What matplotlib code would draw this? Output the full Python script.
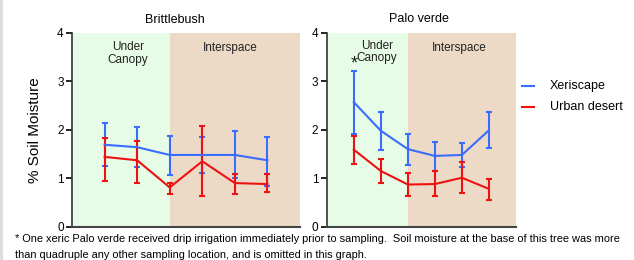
import numpy as np
import matplotlib.pyplot as plt

plt.rcParams['font.family'] = ['Liberation Sans', 'DejaVu Sans']

# sampling locations 1..6 (1-3 under canopy, 4-6 interspace)
positions = [1, 2, 3, 4, 5, 6]

# Brittlebush
bb_xeri = [1.69, 1.64, 1.48, 1.48, 1.48, 1.37]
bb_xeri_lo = [1.26, 1.23, 1.07, 1.11, 1.00, 0.83]
bb_xeri_hi = [2.13, 2.06, 1.88, 1.85, 1.98, 1.86]
bb_urban = [1.44, 1.37, 0.81, 1.35, 0.90, 0.88]
bb_urban_lo = [0.95, 0.90, 0.67, 0.64, 0.67, 0.72]
bb_urban_hi = [1.82, 1.77, 0.91, 2.08, 1.08, 1.09]

# Palo verde
pv_xeri = [2.57, 1.98, 1.60, 1.46, 1.48, 1.99]
pv_xeri_lo = [1.92, 1.58, 1.28, 1.15, 1.24, 1.62]
pv_xeri_hi = [3.22, 2.37, 1.92, 1.75, 1.73, 2.36]
pv_urban = [1.59, 1.15, 0.87, 0.88, 1.01, 0.78]
pv_urban_lo = [1.30, 0.90, 0.64, 0.64, 0.70, 0.55]
pv_urban_hi = [1.88, 1.39, 1.10, 1.14, 1.34, 0.99]

series_names = ['Xeriscape', 'Urban desert']
blue = '#3a6cff'
red = '#ee1111'
green_bg = '#e6fce6'
brown_bg = '#ecdac7'


def panel(ax, xeri, xlo, xhi, urb, ulo, uhi):
    ax.axvspan(0, 3, color=green_bg, zorder=0, lw=0)
    ax.axvspan(3, 7, color=brown_bg, zorder=0, lw=0)
    for vals, lo, hi, c in [(xeri, xlo, xhi, blue), (urb, ulo, uhi, red)]:
        v = np.array(vals)
        err = [v - np.array(lo), np.array(hi) - v]
        ax.errorbar(positions, v, yerr=err, color=c, lw=1.5, elinewidth=1.5,
                    capsize=2.2, capthick=1.5, zorder=3)
    ax.set_xlim(0, 7)
    ax.set_ylim(0, 4)
    ax.set_yticks([0, 1, 2, 3, 4])
    ax.set_xticks([])
    for s in ['top', 'right']:
        ax.spines[s].set_visible(False)
    ax.spines['left'].set_color('#333333')
    ax.spines['bottom'].set_color('#444444')
    ax.spines['left'].set_linewidth(1.2)
    ax.spines['bottom'].set_linewidth(1.5)
    ax.tick_params(axis='y', length=4, width=1.2, labelsize=8.5, pad=2)


fig = plt.figure(figsize=(6.34, 2.6), dpi=100)
ax1 = fig.add_axes([0.1136, 0.128, 0.3596, 0.746])
ax2 = fig.add_axes([0.5153, 0.128, 0.2986, 0.746])

panel(ax1, bb_xeri, bb_xeri_lo, bb_xeri_hi, bb_urban, bb_urban_lo, bb_urban_hi)
panel(ax2, pv_xeri, pv_xeri_lo, pv_xeri_hi, pv_urban, pv_urban_lo, pv_urban_hi)

# region labels
ax1.text(1.72, 3.57, 'Under\nCanopy', ha='center', va='center', fontsize=8.5,
         color='#222222', linespacing=1.15)
ax1.text(4.85, 3.69, 'Interspace', ha='center', va='center', fontsize=8.5,
         color='#222222')
ax2.text(1.86, 3.6, 'Under\nCanopy', ha='center', va='center', fontsize=8.5,
         color='#222222', linespacing=1.0)
ax2.text(4.89, 3.69, 'Interspace', ha='center', va='center', fontsize=8.5,
         color='#222222')
ax2.text(1.02, 3.36, '*', ha='center', va='center', fontsize=13,
         color='#222222')

# titles
fig.text(175 / 634, 1 - 20 / 260, 'Brittlebush', ha='center', va='center',
         fontsize=9)
fig.text(419 / 634, 1 - 19 / 260, 'Palo verde', ha='center', va='center',
         fontsize=9)

# y label
fig.text(35 / 634, 0.5, '% Soil Moisture', rotation=90, ha='center',
         va='center', fontsize=11)

# legend
for i, (name, c) in enumerate(zip(series_names, [blue, red])):
    y = 1 - (85.7 + 21.6 * i) / 260
    fig.add_artist(plt.Line2D([522 / 634, 534 / 634], [y, y], color=c, lw=1.5))
    fig.text(550 / 634, y, name, ha='left', va='center', fontsize=9)

# footnote
fig.text(15 / 634, 1 - 239.5 / 260,
         '* One xeric Palo verde received drip irrigation immediately prior to '
         'sampling.  Soil moisture at the base of this tree was more',
         ha='left', va='center', fontsize=7.9)
fig.text(15 / 634, 1 - 254.5 / 260,
         'than quadruple any other sampling location, and is omitted in this graph.',
         ha='left', va='center', fontsize=7.9)

# thin grey border at the left edge
fig.add_artist(plt.Line2D([0.002, 0.002], [0, 1], color='#dddddd', lw=3))

fig.savefig('out.png', dpi=100)
